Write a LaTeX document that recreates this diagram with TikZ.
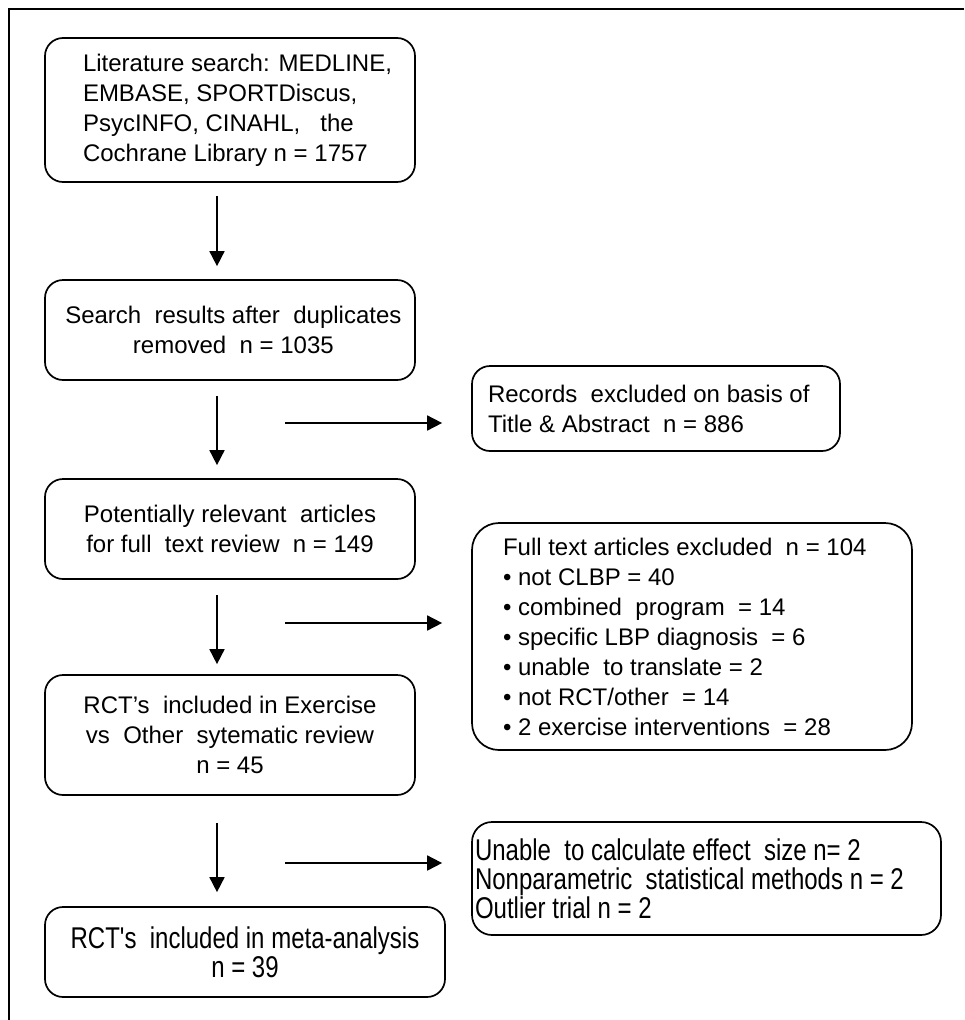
\documentclass[tikz,border=0pt]{standalone}
\usepackage{fontspec}
\setmainfont{Liberation Sans}
\newfontfamily\narrowfont[FakeStretch=0.8]{Liberation Sans}
\usetikzlibrary{arrows.meta,positioning}

\tikzset{
	stage/.style={draw, line width=1.7pt, rounded corners=18pt, inner sep=0pt,
		font=\fontsize{24}{30}\selectfont, align=center},
	narrowstage/.style={stage, font=\narrowfont\fontsize{30}{29}\selectfont},
	leftstage/.style={align=flush left, text width=#1},
	flow/.style={line width=1.7pt, -{Triangle[length=15pt,width=15pt]}},
}

\begin{document}
\begin{tikzpicture}[x=1pt,y=-1pt]
		\useasboundingbox (0,0) rectangle (964,1020);
		\draw[line width=1.7pt] (9,1020) -- (9,9) -- (964,9);

		% main column
		\node[stage, leftstage=370pt, minimum height=144pt] (lit) at (230,110)
			{\leftskip=38pt Literature search: MEDLINE,\\EMBASE, SPORTDiscus,\\PsycINFO, CINAHL,~~ the\\Cochrane Library n = 1757\par};
		\node[stage, minimum width=370pt, minimum height=100pt] (dedup) at (230,330)
			{~Search~ results after~ duplicates\\~removed~ n = 1035};
		\node[stage, minimum width=370pt, minimum height=100pt] (relevant) at (230,529)
			{Potentially relevant~ articles\\for full~ text review~ n = 149};
		\node[stage, minimum width=370pt, minimum height=120pt] (rcts) at (230,735)
			{RCT's~ included in Exercise\\vs~ Other~ sytematic review\\n = 45};
		\node[narrowstage, minimum width=400pt, minimum height=90pt] (meta) at (245,952)
			{RCT's~ included in meta-analysis\\n = 39};

		% exclusions
		\node[stage, leftstage=368pt, minimum height=85pt] (title) at (656,408.5)
			{\leftskip=16pt Records~ excluded on basis of\\Title \& Abstract~ n = 886\par};
		\node[stage, rounded corners=27pt, leftstage=440pt, minimum height=227pt] (fulltext) at (692,636.5)
			{\leftskip=31pt Full text articles excluded~ n = 104\\
			 • not CLBP = 40\\
			 • combined~ program~ = 14\\
			 • specific LBP diagnosis~ = 6\\
			 • unable~ to translate = 2\\
			 • not RCT/other~ = 14\\
			 • 2 exercise interventions~ = 28\par};
		\node[narrowstage, rounded corners=20pt, leftstage=469pt, minimum height=113pt] (effect) at (706.5,878.5)
			{\leftskip=3pt Unable~ to calculate effect~ size n= 2\\Nonparametric~ statistical methods n = 2\\Outlier trial n = 2\par};

		% arrows down
		\draw[flow] ([xshift=-13pt,yshift=-13pt]lit.south) -- ([xshift=-13pt,yshift=13pt]dedup.north);
		\draw[flow] ([xshift=-13pt,yshift=-15pt]dedup.south) -- ([xshift=-13pt,yshift=13pt]relevant.north);
		\draw[flow] ([xshift=-13pt,yshift=-15pt]relevant.south) -- ([xshift=-13pt,yshift=10pt]rcts.north);
		\draw[flow] ([xshift=-13pt,yshift=-27pt]rcts.south) -- ([xshift=-28pt,yshift=14pt]meta.north);

		% arrows across
		\coordinate (t1) at (285,423);
		\coordinate (t2) at (285,623);
		\coordinate (t3) at (285,863);
		\draw[flow] (t1) -- ([xshift=-29pt]t1 -| title.west);
		\draw[flow] (t2) -- ([xshift=-29pt]t2 -| fulltext.west);
		\draw[flow] (t3) -- ([xshift=-29pt]t3 -| effect.west);
\end{tikzpicture}
\end{document}
